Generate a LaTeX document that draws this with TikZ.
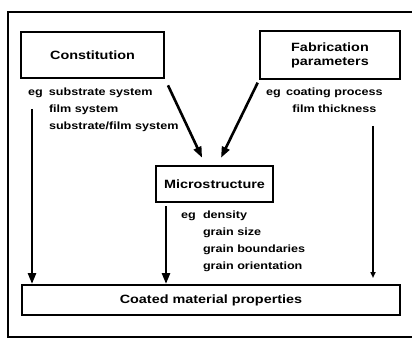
\documentclass[tikz,border=0pt]{standalone}
\usepackage{fontspec}
\setmainfont[FakeStretch=1.2]{Liberation Sans}
\usetikzlibrary{arrows.meta, positioning, calc}
\tikzset{
  every picture/.style={font=\bfseries\fontsize{10.5}{17}\selectfont, line width=2pt},
  box/.style={draw, align=center, inner sep=3pt, font=\bfseries\fontsize{12}{14}\selectfont},
  arrow/.style={-{Triangle[length=11pt, width=8pt]}, line width=2.6pt},
  thinarrow/.style={-{Triangle[length=6pt, width=5pt]}, line width=2pt},
  note/.style={anchor=north west, inner sep=0pt, align=left},
}

\begin{document}
\begin{tikzpicture}[x=1pt, y=-1pt]
  \useasboundingbox (0,0) rectangle (412,339);
  % frame, open on the right
  \draw[line width=1.8pt] (412,12) -- (8,12) -- (8,337) -- (412,337);
  \node[box, minimum width=143pt, minimum height=46pt] (constitution) at (92.5,55) {Constitution};
  \node[box, minimum width=140pt, minimum height=48pt] (fabric) at (330,55) {Fabrication\\parameters};
  \node[box, minimum width=117pt, minimum height=36pt] (micro) at (214.5,184) {Microstructure};
  \node[box, minimum width=378pt, minimum height=30pt] (coated) at (211,300) {Coated material properties};
  \node[note] (constnote) at (27,83) {\begin{tabular}{@{}p{21pt}@{}l@{}}eg & substrate system\\ & film system\\ & substrate/film system\end{tabular}};
  \node[note] (fabnote) at (265,83) {\begin{tabular}{@{}p{20pt}@{}c@{}}eg & coating process\\ & film thickness\end{tabular}};
  \node[note] (micronote) at (180,206) {\begin{tabular}{@{}p{22pt}@{}l@{}}eg & density\\ & grain size\\ & grain boundaries\\ & grain orientation\end{tabular}};
  \draw[arrow, shorten <=7pt, shorten >=8pt] (constitution.south east) -- ([xshift=-9pt]micro.north);
  \draw[arrow, shorten <=3pt, shorten >=8pt] (fabric.south west) -- ([xshift=3pt]micro.north);
  \draw[arrow] ([xshift=12pt]constitution.south west) ++(0,30) coordinate (c1) -- (c1 |- coated.north);
  \draw[arrow] ([xshift=11pt]micro.south west) ++(0,3) coordinate (c2) -- (c2 |- coated.north);
  \draw[thinarrow, shorten >=6pt] ([xshift=-28pt]fabric.south east) ++(0,46) coordinate (c3) -- (c3 |- coated.north);
\end{tikzpicture}
\end{document}
